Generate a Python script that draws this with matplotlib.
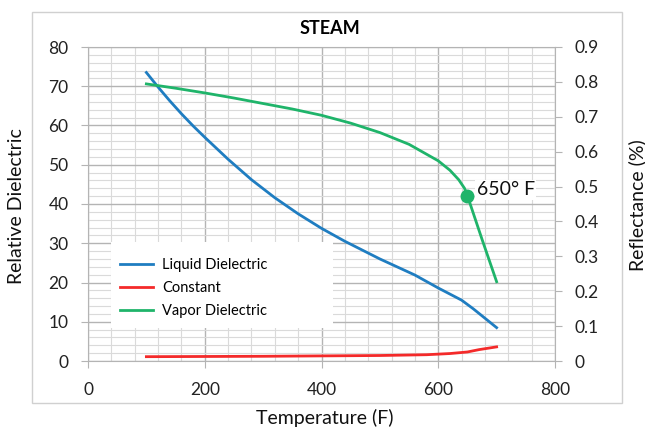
import matplotlib
matplotlib.use("Agg")
import matplotlib.pyplot as plt
from matplotlib.patches import Rectangle
from matplotlib.ticker import MultipleLocator

plt.rcParams['font.family'] = ['Lato', 'DejaVu Sans']

# data
liquid_t = [100, 120, 140, 160, 180, 200, 240, 280, 320, 360, 400, 440, 500, 560, 600, 640, 660, 700]
liquid_v = [73.5, 69.8, 66.3, 63.0, 59.9, 57.0, 51.4, 46.2, 41.6, 37.5, 33.8, 30.5, 26.0, 21.9, 18.6, 15.5, 13.3, 8.5]

const_t = [100, 300, 400, 500, 580, 620, 650, 670, 700]
const_v = [1.1, 1.2, 1.3, 1.4, 1.6, 1.9, 2.3, 2.9, 3.6]

vapor_t = [100, 150, 200, 250, 300, 350, 400, 450, 500, 550, 600, 620, 635, 645, 650, 675, 700]
vapor_v = [70.6, 69.5, 68.3, 67.0, 65.6, 64.2, 62.6, 60.6, 58.2, 55.2, 51.0, 48.6, 46.2, 44.0, 42.1, 31.0, 20.2]

mark_t, mark_v = 650, 42.1

W, H = 645, 432
fig = plt.figure(figsize=(6.45, 4.32), dpi=100)
ax = fig.add_axes([88 / W, 1 - 361 / H, (555 - 88) / W, (361 - 47) / H])
ax.set_xlim(0, 800)
ax.set_ylim(0, 80)

ax.xaxis.set_major_locator(MultipleLocator(200))
ax.xaxis.set_minor_locator(MultipleLocator(40))
ax.yaxis.set_major_locator(MultipleLocator(10))
ax.yaxis.set_minor_locator(MultipleLocator(2))
ax.set_axisbelow(True)
ax.grid(which='major', color='#b4b4b4', lw=1.0)
ax.grid(which='minor', color='#dadada', lw=0.8)
ax.tick_params(which='minor', length=0)
ax.tick_params(which='major', length=5, color='#b4b4b4', labelsize=12.5, labelcolor='#222222')
ax.tick_params(axis='y', pad=9)
ax.tick_params(axis='x', pad=10)
for s in ax.spines.values():
    s.set_color('#b4b4b4')

ax2 = ax.twinx()
ax2.set_ylim(0, 0.9)
ax2.set_yticks([0, 0.1, 0.2, 0.3, 0.4, 0.5, 0.6, 0.7, 0.8, 0.9])
ax2.set_yticklabels(['0', '0.1', '0.2', '0.3', '0.4', '0.5', '0.6', '0.7', '0.8', '0.9'])
ax2.tick_params(length=5, color='#b4b4b4', labelsize=12.5, labelcolor='#222222', pad=9)
for s in ax2.spines.values():
    s.set_visible(False)

ax.plot(liquid_t, liquid_v, color='#1f7dc1', lw=2, label='Liquid Dielectric', zorder=3)
ax.plot(const_t, const_v, color='#f42a2a', lw=2, label='Constant', zorder=3)
ax.plot(vapor_t, vapor_v, color='#1fb46a', lw=2, label='Vapor Dielectric', zorder=3)
ax.plot([mark_t], [mark_v], 'o', color='#1fb46a', ms=9, zorder=4)
ax.text(666, 43.6, '650° F', fontsize=14, ha='left', va='center', color='#111111',
        bbox=dict(facecolor='white', edgecolor='none', pad=1), zorder=5)

# white legend panel
ax.add_patch(Rectangle((111 / W, 1 - 328 / H), 222 / W, 86 / H, transform=fig.transFigure,
                       facecolor='white', edgecolor='none', zorder=1.5))
ax.legend(loc='upper left', bbox_to_anchor=(114 / W, 1 - 252 / H), bbox_transform=fig.transFigure,
          frameon=False, fontsize=10.5, handlelength=2.3, handletextpad=0.6,
          labelspacing=0.62, borderaxespad=0)

# chart border
fig.patches.append(Rectangle((32 / W, 1 - 403 / H), 590 / W, 391 / H, transform=fig.transFigure,
                             fill=False, edgecolor='#d0d0d0', lw=1))

fig.text(330 / W, 1 - 28 / H, 'STEAM', fontsize=13, fontweight='bold', ha='center', va='center')
fig.text(325 / W, 1 - 418 / H, 'Temperature (F)', fontsize=14, ha='center', va='center', color='#111111')
fig.text(17 / W, 1 - 206 / H, 'Relative Dielectric', fontsize=14, rotation=90, ha='center', va='center', color='#111111')
fig.text(637 / W, 1 - 205 / H, 'Reflectance (%)', fontsize=14, rotation=90, ha='center', va='center', color='#111111')

fig.savefig('out.png', dpi=100)
